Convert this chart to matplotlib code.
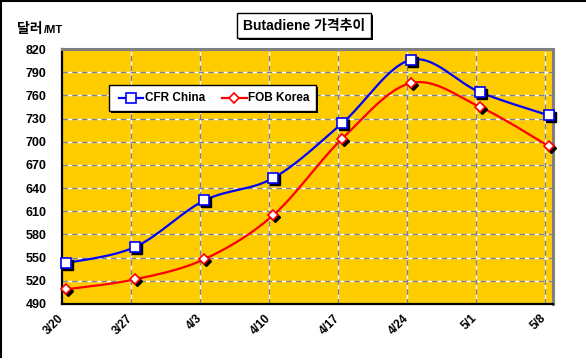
import matplotlib
matplotlib.use("Agg")
import matplotlib.pyplot as plt
import matplotlib.transforms as mtransforms
from matplotlib.patches import Rectangle
from matplotlib.lines import Line2D
import numpy as np

plt.rcParams['font.family'] = ['Liberation Sans', 'Noto Sans CJK KR', 'DejaVu Sans']

dates = ["3/20", "3/27", "4/3", "4/10", "4/17", "4/24", "5/1", "5/8"]
cfr_china = [543, 564, 624, 653, 724, 806, 764, 734]
fob_korea = [509, 522, 548, 605, 704, 776, 745, 694]
y_ticks = [490, 520, 550, 580, 610, 640, 670, 700, 730, 760, 790, 820]
title = "Butadiene 가격추이"
unit_main = "달러"
unit_sub = "/MT"
series_names = ["CFR China", "FOB Korea"]

W, H = 586, 362
fig = plt.figure(figsize=(W / 100, H / 100), dpi=100)
fig.patch.set_facecolor('white')

def fx(x):
    return x / W

def fy(y):
    return 1 - y / H

L, R, T, B = 62, 553, 49, 304
ax = fig.add_axes([fx(L), fy(B), fx(R - L), (B - T) / H])
ax.set_facecolor('#FFCC00')
n = len(dates)
off = 0.065
ax.set_xlim(-0.058, n - 1 + 0.058)
ax.set_ylim(y_ticks[0], y_ticks[-1])

# gridlines
for yv in y_ticks[1:-1]:
    ax.axhline(yv, color='white', lw=1, zorder=1)
    ax.axhline(yv, color='#808080', lw=1, ls=(0, (4, 3)), zorder=1.1)
for i in range(1, n):
    ax.axvline(i - off, color='white', lw=1, zorder=1)
    ax.axvline(i - off, color='#808080', lw=1, ls=(0, (4, 3)), zorder=1.1)

# smooth curve (Excel-like Bezier smoothing) in pixel-scaled space
def smooth(xs, ys, sx=69.0, sy=0.7727, steps=30):
    P = np.column_stack([np.asarray(xs, float) * sx, np.asarray(ys, float) * sy])
    out = []
    m = len(P)
    for k in range(m - 1):
        p0 = P[k - 1] if k > 0 else P[k]
        p1 = P[k]
        p2 = P[k + 1]
        p3 = P[k + 2] if k + 2 < m else P[k + 1]
        c1 = p1 + (p2 - p0) / 6
        c2 = p2 - (p3 - p1) / 6
        t = np.linspace(0, 1, steps)[:, None]
        seg = ((1 - t) ** 3) * p1 + 3 * ((1 - t) ** 2) * t * c1 + 3 * (1 - t) * t ** 2 * c2 + t ** 3 * p2
        out.append(seg if k == 0 else seg[1:])
    S = np.vstack(out)
    return S[:, 0] / sx, S[:, 1] / sy

xs = np.arange(n)
shadow = mtransforms.offset_copy(ax.transData, fig=fig, x=2, y=-2, units='dots')

for vals, color, marker, ms in [(cfr_china, '#0000FF', 's', 7.5), (fob_korea, '#FF0000', 'D', 5.5)]:
    sxv, syv = smooth(xs, vals)
    ax.plot(sxv, syv, color=color, lw=1.6, zorder=3, clip_on=False)
    ax.plot(xs, vals, ls='none', marker=marker, ms=ms, mfc='black', mec='black', mew=1.0,
            transform=shadow, zorder=3.5, clip_on=False)
    ax.plot(xs, vals, ls='none', marker=marker, ms=ms, mfc='white', mec=color, mew=1.2,
            zorder=4, clip_on=False)

# spines
for s in ['left', 'bottom']:
    ax.spines[s].set_color('black')
    ax.spines[s].set_linewidth(1.6)
for s in ['top', 'right']:
    ax.spines[s].set_color('#808080')
    ax.spines[s].set_linewidth(2.2)

ax.set_yticks(y_ticks)
ax.set_yticklabels([str(v) for v in y_ticks], fontsize=9, fontweight='bold')
ax.tick_params(axis='y', length=0, pad=11)
ax.set_xticks(xs - off)
ax.set_xticklabels(dates, fontsize=8.5, fontweight='bold', rotation=45, ha='right',
                   va='center', rotation_mode='anchor')
ax.tick_params(axis='x', length=0, pad=9)

# Title box with shadow
tx0, tx1, ty0, ty1 = 237, 371, 13, 38
fig.patches.append(Rectangle((fx(tx0 + 2), fy(ty1 + 2)), fx(tx1 - tx0), (ty1 - ty0) / H,
                             transform=fig.transFigure, facecolor='black', edgecolor='none', zorder=5))
fig.patches.append(Rectangle((fx(tx0), fy(ty1)), fx(tx1 - tx0), (ty1 - ty0) / H,
                             transform=fig.transFigure, facecolor='white', edgecolor='black', lw=1, zorder=6))
fig.text(fx((tx0 + tx1) / 2), fy((ty0 + ty1) / 2 + 0.5), title, fontsize=10, fontweight='bold',
         ha='center', va='center', zorder=7)

# unit label
fig.text(fx(17), fy(33), unit_main, fontsize=10, fontweight='bold', ha='left', va='baseline',
         family=['Noto Sans CJK KR', 'Liberation Sans'])
fig.text(fx(44), fy(33), unit_sub, fontsize=8, fontweight='bold', ha='left', va='baseline')

# Legend box with shadow
lx0, lx1, ly0, ly1 = 109, 316, 85, 111
fig.patches.append(Rectangle((fx(lx0 + 2), fy(ly1 + 2)), fx(lx1 - lx0), (ly1 - ly0) / H,
                             transform=fig.transFigure, facecolor='black', edgecolor='none', zorder=8))
fig.patches.append(Rectangle((fx(lx0), fy(ly1)), fx(lx1 - lx0), (ly1 - ly0) / H,
                             transform=fig.transFigure, facecolor='white', edgecolor='black', lw=1, zorder=9))
ly = 98
for (x0, x1, xm, xt), name, color, marker, ms in [((119, 143, 131, 145), series_names[0], '#0000FF', 's', 7.0),
                                                   ((222, 247, 234, 248), series_names[1], '#FF0000', 'D', 5.5)]:
    fig.lines.append(Line2D([fx(x0), fx(x1)], [fy(ly), fy(ly)], transform=fig.transFigure,
                            color=color, lw=1.6, zorder=10))
    fig.lines.append(Line2D([fx(xm)], [fy(ly)], transform=fig.transFigure, marker=marker, ms=ms,
                            mfc='white', mec=color, mew=1.2, ls='none', zorder=11))
    fig.text(fx(xt), fy(ly), name, fontsize=8.5, fontweight='bold', ha='left', va='center', zorder=12)

# chart border (top & left)
fig.lines.append(Line2D([0, 1], [fy(1), fy(1)], transform=fig.transFigure, color='black', lw=1.5))
fig.lines.append(Line2D([fx(1), fx(1)], [1, fy(357)], transform=fig.transFigure, color='black', lw=1.5))

fig.savefig('out.png', dpi=100, facecolor='white')
